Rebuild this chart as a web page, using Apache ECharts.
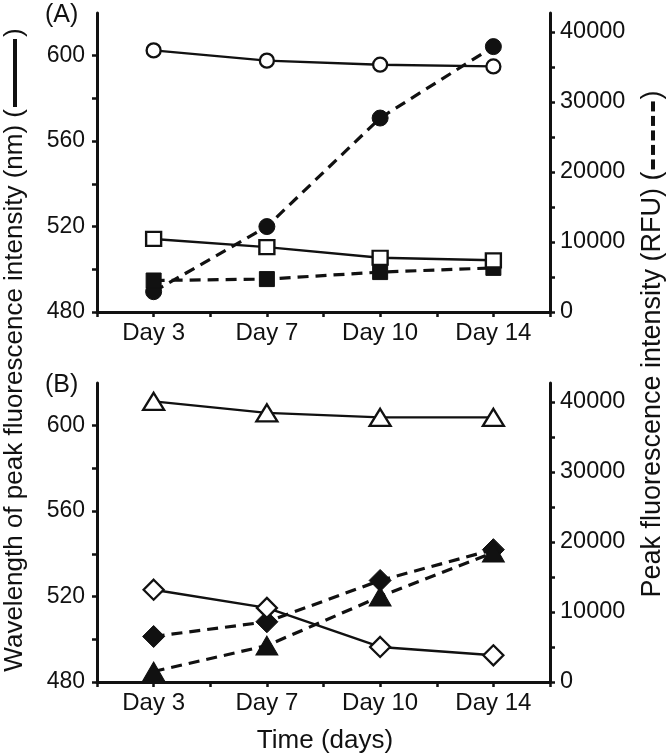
<!DOCTYPE html>
<html>
<head>
<meta charset="utf-8">
<script src="https://cdn.jsdelivr.net/npm/echarts@6/dist/echarts.min.js"></script>
<style>
html,body{margin:0;padding:0;background:#fff;}
#chart{width:669px;height:754px;}
</style>
</head>
<body>
<div id="chart"></div>
<script>
// ---- data ----
var categories = ['Day 3', 'Day 7', 'Day 10', 'Day 14'];
// Panel A
var aOpenCircleNm    = [602.5, 597.7, 595.8, 595.0];
var aOpenSquareNm    = [514.2, 510.4, 505.4, 504.2];
var aFilledCircleRfu = [2900, 12200, 27700, 37900];
var aFilledSquareRfu = [4500, 4700, 5700, 6300];
// Panel B
var bOpenTriangleNm    = [611.4, 606.0, 603.9, 603.9];
var bOpenDiamondNm     = [523.2, 514.7, 496.4, 492.5];
var bFilledDiamondRfu  = [6500, 8600, 14500, 18900];
var bFilledTriangleRfu = [1500, 5200, 12200, 18500];
// tick labels
var leftLabelTicks  = [480, 520, 560, 600];
var leftTickMarks   = [480, 500, 520, 540, 560, 580, 600];
var rightLabelTicks = [0, 10000, 20000, 30000, 40000];
var rightTickMarks  = [0, 5000, 10000, 15000, 20000, 25000, 30000, 35000, 40000];

var FONT = 'Liberation Sans, Arial, Helvetica, sans-serif';
var INK = '#111';

var chart = echarts.init(document.getElementById('chart'), null, {renderer: 'canvas'});

var grids = [
  {left: 97, width: 453, top: 13, height: 299},
  {left: 97, width: 453, top: 383, height: 299}
];

function xAxes(gi) {
  return [
    {
      type: 'category', gridIndex: gi, data: categories, boundaryGap: true,
      axisLine: {show: true, lineStyle: {color: INK, width: 3}},
      axisTick: {show: true, alignWithLabel: true, length: 5, lineStyle: {color: INK, width: 2.5}},
      axisLabel: {color: INK, fontFamily: FONT, fontSize: 24, margin: 9},
      splitLine: {show: false}
    },
    {
      type: 'category', gridIndex: gi, data: categories, boundaryGap: true, position: 'bottom',
      axisLine: {show: false},
      axisTick: {show: true, alignWithLabel: false, length: 5, lineStyle: {color: INK, width: 2.5}},
      axisLabel: {show: false},
      splitLine: {show: false}
    }
  ];
}

function plain(v) { return String(v); }

function yAxes(gi) {
  return [
    {
      type: 'value', gridIndex: gi, position: 'left', min: 480, max: 620,
      axisLine: {show: true, lineStyle: {color: INK, width: 3}},
      axisTick: {show: true, length: 5, customValues: leftTickMarks, lineStyle: {color: INK, width: 2.5}},
      axisLabel: {color: INK, fontFamily: FONT, fontSize: 23, margin: 12, customValues: leftLabelTicks, formatter: plain},
      splitLine: {show: false}
    },
    {
      type: 'value', gridIndex: gi, position: 'right', min: 0, max: 42700,
      axisLine: {show: true, lineStyle: {color: INK, width: 3}},
      axisTick: {show: true, length: 5, customValues: rightTickMarks, lineStyle: {color: INK, width: 2.5}},
      axisLabel: {color: INK, fontFamily: FONT, fontSize: 23.5, margin: 10, customValues: rightLabelTicks, formatter: plain},
      splitLine: {show: false}
    }
  ];
}

function mkSeries(data, xi, yi, symbol, size, filled, dashed) {
  return {
    type: 'line', data: data, xAxisIndex: xi, yAxisIndex: yi,
    symbol: symbol, symbolSize: size, showSymbol: true,
    lineStyle: {color: INK, width: dashed ? 3.2 : 2.4, type: dashed ? [11, 7] : 'solid'},
    itemStyle: {color: filled ? INK : '#fff', borderColor: INK, borderWidth: filled ? 1 : 2.3},
    z: filled ? 3 : 4,
    animation: false
  };
}

var series = [
  // Panel A (xAxis 0, yAxis 0 left / 1 right)
  mkSeries(aFilledCircleRfu, 0, 1, 'circle', 16, true, true),
  mkSeries(aFilledSquareRfu, 0, 1, 'rect', 15, true, true),
  mkSeries(aOpenCircleNm, 0, 0, 'circle', 14, false, false),
  mkSeries(aOpenSquareNm, 0, 0, 'rect', [15, 14], false, false),
  // Panel B (xAxis 2, yAxis 2 left / 3 right)
  mkSeries(bFilledDiamondRfu, 2, 3, 'diamond', [22, 22], true, true),
  mkSeries(bFilledTriangleRfu, 2, 3, 'triangle', [22, 19], true, true),
  mkSeries(bOpenTriangleNm, 2, 2, 'triangle', [21, 17], false, false),
  mkSeries(bOpenDiamondNm, 2, 2, 'diamond', [20, 20], false, false)
];

var xs = xAxes(0).concat(xAxes(1));
var ys = yAxes(0).concat(yAxes(1));

function dashBars(n) {
  var s = '';
  for (var i = 0; i < n; i++) {
    s += '{d| }';
    if (i < n - 1) s += '{g| }';
  }
  return s;
}

var LEFT_FS = 26;
var RIGHT_FS = 27;

var option = {
  backgroundColor: '#fff',
  animation: false,
  grid: grids,
  xAxis: xs,
  yAxis: ys,
  series: series,
  graphic: [
    {type: 'text', left: 45, top: 3, style: {text: '(A)', fontFamily: FONT, fontSize: 25, fill: INK}},
    {type: 'text', left: 45, top: 373, style: {text: '(B)', fontFamily: FONT, fontSize: 25, fill: INK}},
    {type: 'text', x: 325, y: 741, style: {text: 'Time (days)', fontFamily: FONT, fontSize: 26, fill: INK, align: 'center', verticalAlign: 'middle'}},
    {
      type: 'text', x: 15, y: 350, rotation: Math.PI / 2,
      style: {
        text: 'Wavelength of peak fluorescence intensity (nm) ({s|}{bar| }{s|})',
        fontFamily: FONT, fontSize: LEFT_FS, fill: INK, align: 'center', verticalAlign: 'middle',
        rich: {
          bar: {backgroundColor: INK, width: 68, height: 4, fontSize: 4, lineHeight: 4},
          s: {width: 2, fontSize: LEFT_FS}
        }
      }
    },
    {
      type: 'text', x: 653, y: 344, rotation: Math.PI / 2,
      style: {
        text: 'Peak fluorescence intensity (RFU) ({s|}' + dashBars(5) + '{s|})',
        fontFamily: FONT, fontSize: RIGHT_FS, fill: INK, align: 'center', verticalAlign: 'middle',
        rich: {
          d: {backgroundColor: INK, width: 10, height: 4, fontSize: 4, lineHeight: 4},
          g: {width: 4.5, height: 4, fontSize: 4, lineHeight: 4},
          s: {width: 2, fontSize: RIGHT_FS}
        }
      }
    }
  ]
};

chart.setOption(option);
</script>
</body>
</html>
